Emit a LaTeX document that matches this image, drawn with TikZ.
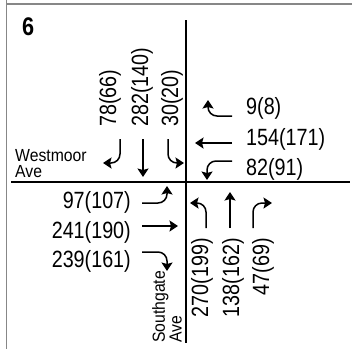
\documentclass[tikz,border=0pt]{standalone}
\usepackage{fontspec}
\setmainfont{Liberation Sans}
\newfontfamily\numfont{Liberation Sans}[FakeStretch=0.84]
\newfontfamily\roadfont{Liberation Sans}[FakeStretch=0.9]
\newfontfamily\titlefont{Liberation Sans}[FakeStretch=0.85]
\usetikzlibrary{arrows.meta}
\tikzset{
  num/.style={inner sep=0pt, font=\numfont\fontsize{23.5}{23.5}\selectfont},
  road/.style={inner sep=0pt, align=left, font=\roadfont\fontsize{17.5}{15.5}\selectfont},
  mv/.style={line width=1.5pt, rounded corners=9pt, -{Stealth[length=8.5pt,width=11pt,inset=1.5pt]}},
  street/.style={line width=1.6pt},
  frame/.style={line width=1.5pt, draw=black!47}
}
\begin{document}
\begin{tikzpicture}[x=1pt,y=-1pt]
\useasboundingbox (0,0) rectangle (352,349);
% frame
\draw[frame] (6.5,0) -- (6.5,349);
\draw[frame] (6,4) -- (352,4);
% title
\node[inner sep=0pt, anchor=base west, font=\titlefont\bfseries\fontsize{25.5}{25.5}\selectfont] (title) at (22,35.5) {6};
% streets
\draw[street] (186,20) -- (186,343);
\draw[street] (11,182) -- (350,182);
% road names
\node[road, anchor=south west] (wm) at (15,177.5) {Westmoor\\Ave};
\node[road, rotate=90, anchor=south west] (sg) at (182,343) {Southgate\\Ave};
% southbound
\node[num, rotate=90, anchor=west] (sbl) at (110,127) {78(66)};
\node[num, rotate=90, anchor=west] (sbt) at (142,127) {282(140)};
\node[num, rotate=90, anchor=west] (sbr) at (172,127) {30(20)};
\draw[mv] (120,139) -- (120,163) -- (103,163);
\draw[mv] (143,139) -- (143,177);
\draw[mv] (168,139) -- (168,163) -- (184,163);
% westbound
\node[num, anchor=west] (wbr) at (246,108) {9(8)};
\node[num, anchor=west] (wbt) at (246,139) {154(171)};
\node[num, anchor=west] (wbl) at (246,169) {82(91)};
\draw[mv] (232,116) -- (208,116) -- (208,100);
\draw[mv] (232,143) -- (195,143);
\draw[mv] (232,161) -- (207,161) -- (207,180);
% eastbound
\node[num, anchor=east] (ebl) at (131,202) {97(107)};
\node[num, anchor=east] (ebt) at (131,232) {241(190)};
\node[num, anchor=east] (ebr) at (131,261) {239(161)};
\draw[mv] (142,203) -- (167,203) -- (167,186);
\draw[mv] (142,226) -- (178,226);
\draw[mv] (142,252) -- (167,252) -- (167,271);
% northbound
\node[num, rotate=90, anchor=east] (nbl) at (202,238) {270(199)};
\node[num, rotate=90, anchor=east] (nbt) at (233,238) {138(162)};
\node[num, rotate=90, anchor=east] (nbr) at (263,238) {47(69)};
\draw[mv] (206,228) -- (206,203) -- (190,203);
\draw[mv] (230,228) -- (230,192);
\draw[mv] (253,228) -- (253,203) -- (272,203);
\end{tikzpicture}
\end{document}
